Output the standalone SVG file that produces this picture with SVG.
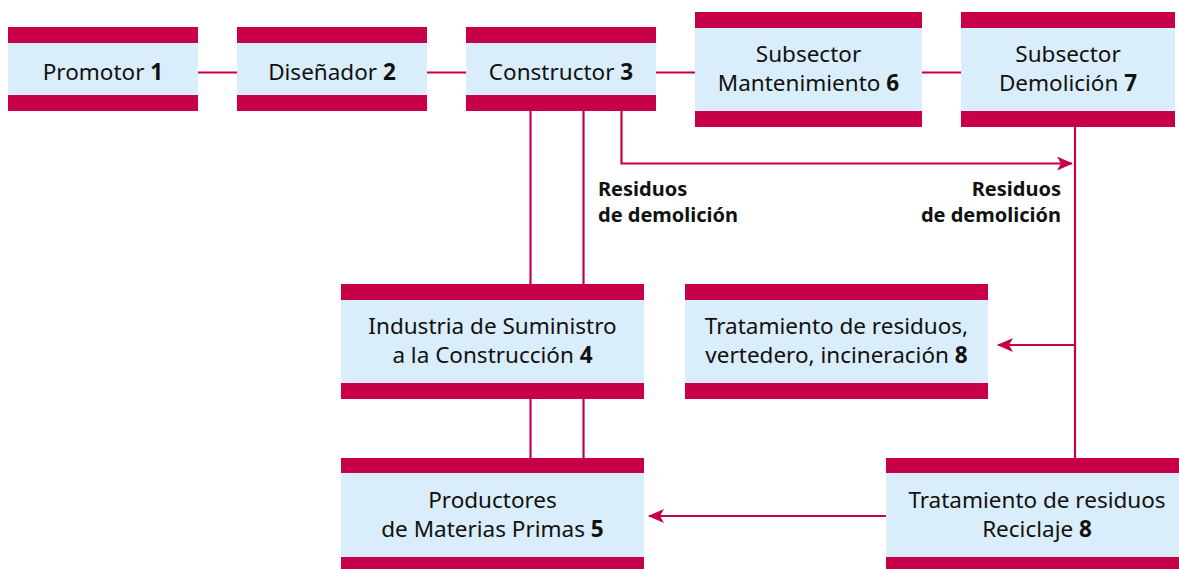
<svg xmlns="http://www.w3.org/2000/svg" width="1179" height="569" viewBox="0 0 1179 569">
<style>
.band{fill:#c8004a}
.body{fill:#daedfa}
.t{font-family:"Noto Sans","Open Sans",sans-serif;font-size:22.5px;fill:#111;text-anchor:middle}
.t tspan.b{font-weight:bold}
.lbl{font-family:"Noto Sans","Open Sans",sans-serif;font-size:20px;font-weight:bold;fill:#111}
.c{stroke:#c8004a;stroke-width:2.2;fill:none}
</style>
<defs>
<marker id="arr" markerWidth="16" markerHeight="14" refX="15" refY="7" orient="auto" markerUnits="userSpaceOnUse">
<path d="M0,0 L16,7 L0,14 L4,7 Z" fill="#c8004a"/>
</marker>
</defs>
<rect width="1179" height="569" fill="#fff"/>
<g id="connectors">
<line class="c" x1="198" y1="72.5" x2="237" y2="72.5"/>
<line class="c" x1="427" y1="72.5" x2="466" y2="72.5"/>
<line class="c" x1="656" y1="72.5" x2="695" y2="72.5"/>
<line class="c" x1="922" y1="72.5" x2="961" y2="72.5"/>
<line class="c" x1="530.5" y1="111" x2="530.5" y2="284"/>
<line class="c" x1="583.5" y1="111" x2="583.5" y2="284"/>
<line class="c" x1="530.5" y1="399" x2="530.5" y2="458"/>
<line class="c" x1="583.5" y1="399" x2="583.5" y2="458"/>
<polyline class="c" points="621.5,111 621.5,163.5 1072,163.5" marker-end="url(#arr)"/>
<line class="c" x1="1075" y1="127" x2="1075" y2="458"/>
<line class="c" x1="1075" y1="345" x2="998" y2="345" marker-end="url(#arr)"/>
<line class="c" x1="886" y1="516" x2="649" y2="516" marker-end="url(#arr)"/>
</g>
<g id="n1">
<rect class="band" x="8" y="27" width="190" height="84"/>
<rect class="body" x="8" y="43" width="190" height="52"/>
<text class="t" x="103" y="80">Promotor <tspan class="b">1</tspan></text>
</g>
<g id="n2">
<rect class="band" x="237" y="27" width="190" height="84"/>
<rect class="body" x="237" y="43" width="190" height="52"/>
<text class="t" x="332" y="80">Diseñador <tspan class="b">2</tspan></text>
</g>
<g id="n3">
<rect class="band" x="466" y="27" width="190" height="84"/>
<rect class="body" x="466" y="43" width="190" height="52"/>
<text class="t" x="561" y="80">Constructor <tspan class="b">3</tspan></text>
</g>
<g id="n6">
<rect class="band" x="695" y="12" width="227" height="115"/>
<rect class="body" x="695" y="28" width="227" height="83"/>
<text class="t" x="808.5" y="62">Subsector</text>
<text class="t" x="808.5" y="91">Mantenimiento <tspan class="b">6</tspan></text>
</g>
<g id="n7">
<rect class="band" x="961" y="12" width="214" height="115"/>
<rect class="body" x="961" y="28" width="214" height="83"/>
<text class="t" x="1068" y="62">Subsector</text>
<text class="t" x="1068" y="91">Demolición <tspan class="b">7</tspan></text>
</g>
<g id="lbl1">
<text class="lbl" x="598" y="196">Residuos</text>
<text class="lbl" x="598" y="222">de demolición</text>
</g>
<g id="lbl2">
<text class="lbl" x="1061" y="196" text-anchor="end">Residuos</text>
<text class="lbl" x="1061" y="222" text-anchor="end">de demolición</text>
</g>
<g id="n4">
<rect class="band" x="341" y="284" width="303" height="115"/>
<rect class="body" x="341" y="300" width="303" height="83"/>
<text class="t" x="492.5" y="334">Industria de Suministro</text>
<text class="t" x="492.5" y="363">a la Construcción <tspan class="b">4</tspan></text>
</g>
<g id="n8a">
<rect class="band" x="685" y="284" width="303" height="115"/>
<rect class="body" x="685" y="300" width="303" height="83"/>
<text class="t" x="836.5" y="334">Tratamiento de residuos,</text>
<text class="t" x="836.5" y="363">vertedero, incineración <tspan class="b">8</tspan></text>
</g>
<g id="n5">
<rect class="band" x="341" y="458" width="303" height="111"/>
<rect class="body" x="341" y="473" width="303" height="84"/>
<text class="t" x="492.5" y="508">Productores</text>
<text class="t" x="492.5" y="537">de Materias Primas <tspan class="b">5</tspan></text>
</g>
<g id="n8b">
<rect class="band" x="886" y="458" width="293" height="111"/>
<rect class="body" x="886" y="473" width="293" height="84"/>
<text class="t" x="1037" y="508">Tratamiento de residuos</text>
<text class="t" x="1037" y="537">Reciclaje <tspan class="b">8</tspan></text>
</g>
</svg>
